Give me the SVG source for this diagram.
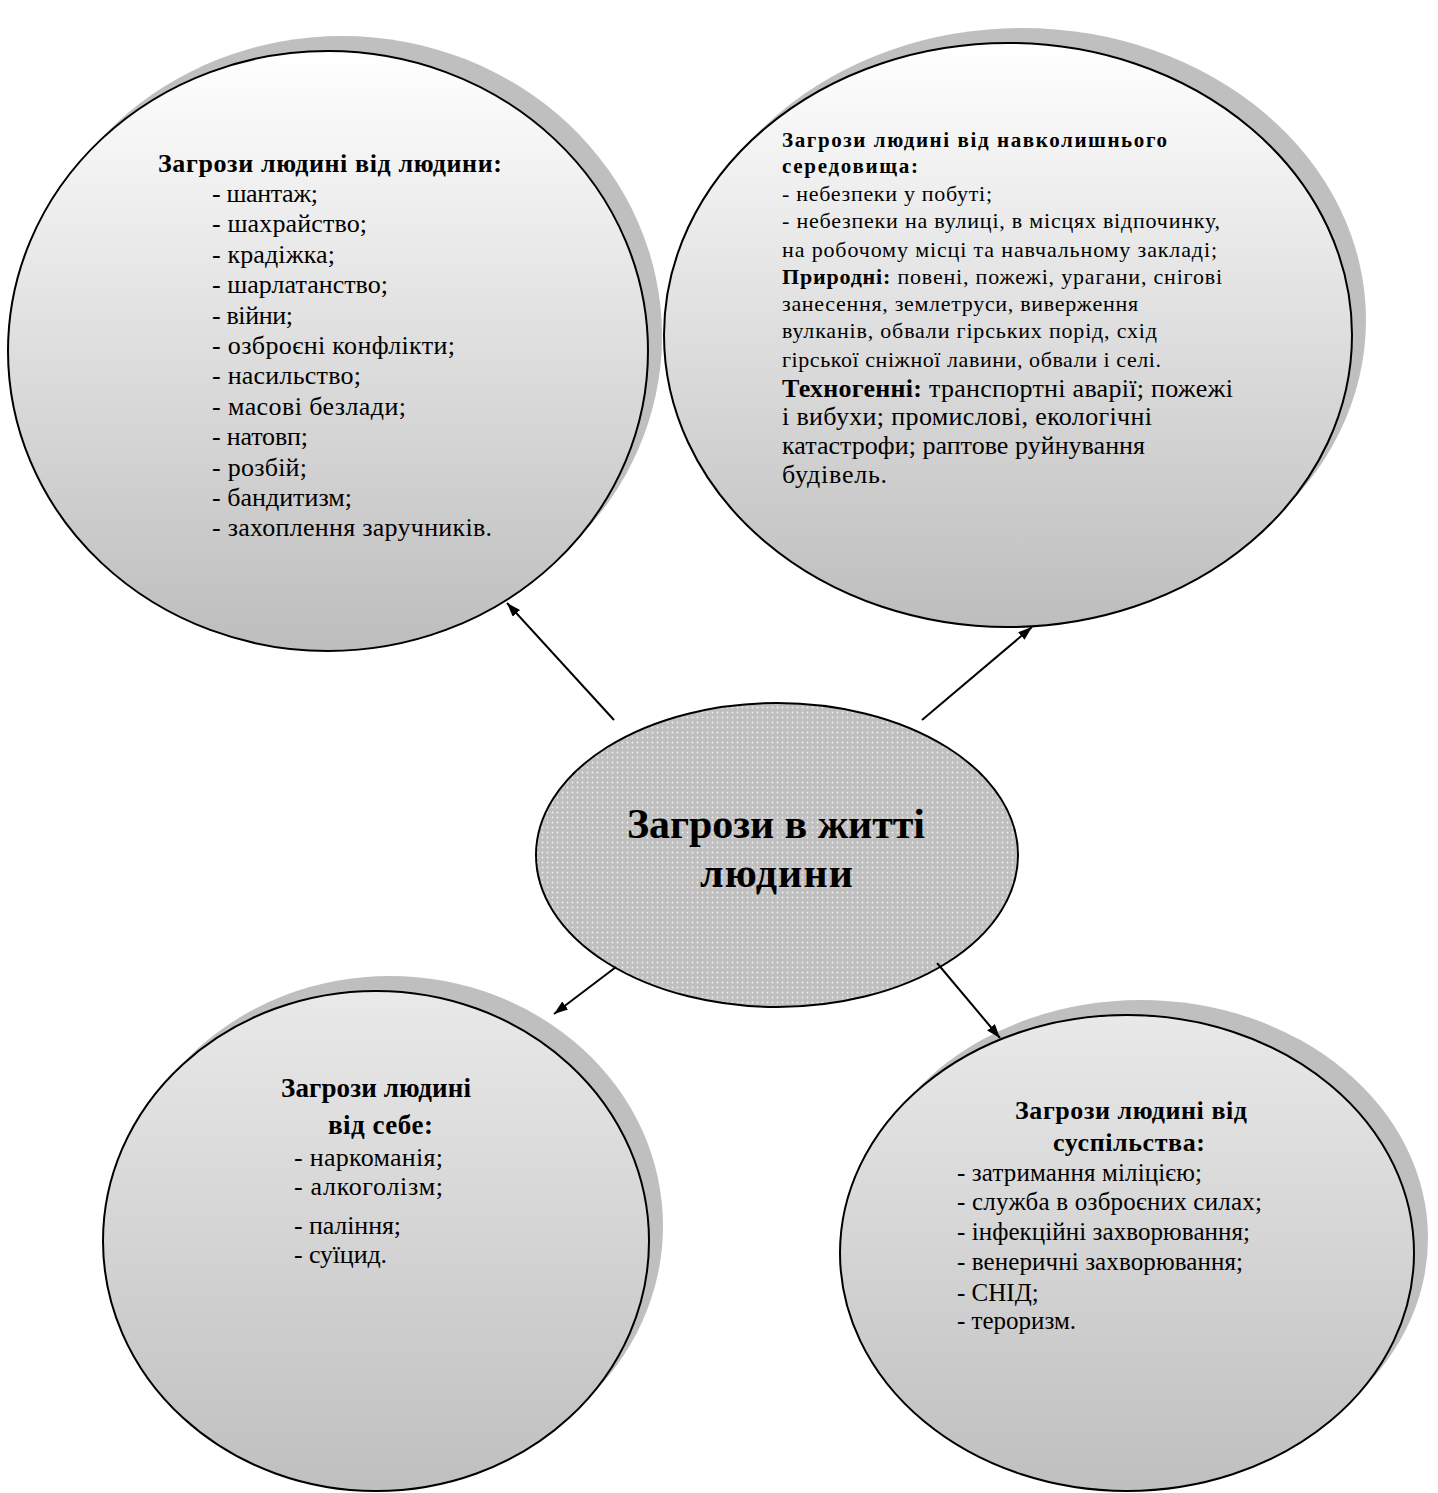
<svg xmlns="http://www.w3.org/2000/svg" width="1438" height="1493" viewBox="0 0 1438 1493">
<defs>
<linearGradient id="gTop" x1="0" y1="0" x2="0" y2="1"><stop offset="0" stop-color="#ffffff"/><stop offset="1" stop-color="#bdbdbd"/></linearGradient>
<linearGradient id="gBot" x1="0" y1="0" x2="0" y2="1"><stop offset="0" stop-color="#e9e9e9"/><stop offset="1" stop-color="#bfbfbf"/></linearGradient>
<pattern id="dots" width="5" height="5" patternUnits="userSpaceOnUse"><rect width="5" height="5" fill="#bfbfbf"/><circle cx="2.5" cy="2.5" r="0.9" fill="#f0f0f0"/></pattern>
<marker id="ah" markerUnits="userSpaceOnUse" markerWidth="14" markerHeight="10" refX="14" refY="5" orient="auto"><path d="M0,0 L14,5 L0,10 z" fill="#000"/></marker>
</defs>
<style>
.sh{fill:#bfbfbf}
.el{stroke:#000;stroke-width:2}
text{font-family:"Liberation Serif","Times New Roman",serif;fill:#000}
.b{font-weight:bold}
.conn line{stroke:#000;stroke-width:2;marker-end:url(#ah)}
</style>
<rect width="1438" height="1493" fill="#fff"/>

<g id="node-people">
<ellipse class="sh" cx="342" cy="336" rx="320" ry="300"/>
<ellipse class="el" cx="328" cy="351" rx="320" ry="300" fill="url(#gTop)"/>
<text class="b" x="158" y="172" font-size="26" textLength="344" lengthAdjust="spacing">Загрози людині від людини:</text>
<g font-size="26">
<text x="212" y="202" textLength="106" lengthAdjust="spacing">- шантаж;</text>
<text x="212" y="232.4" textLength="155" lengthAdjust="spacing">- шахрайство;</text>
<text x="212" y="262.8" textLength="123" lengthAdjust="spacing">- крадіжка;</text>
<text x="212" y="293.2" textLength="176" lengthAdjust="spacing">- шарлатанство;</text>
<text x="212" y="323.6" textLength="81" lengthAdjust="spacing">- війни;</text>
<text x="212" y="354" textLength="243" lengthAdjust="spacing">- озброєні конфлікти;</text>
<text x="212" y="384.4" textLength="149" lengthAdjust="spacing">- насильство;</text>
<text x="212" y="414.8" textLength="194" lengthAdjust="spacing">- масові безлади;</text>
<text x="212" y="445.2" textLength="96" lengthAdjust="spacing">- натовп;</text>
<text x="212" y="475.6" textLength="95" lengthAdjust="spacing">- розбій;</text>
<text x="212" y="506" textLength="140" lengthAdjust="spacing">- бандитизм;</text>
<text x="212" y="536.4" textLength="280" lengthAdjust="spacing">- захоплення заручників.</text>
</g>
</g>

<g id="node-environment">
<ellipse class="sh" cx="1022" cy="320" rx="344" ry="292"/>
<ellipse class="el" cx="1008" cy="335" rx="344" ry="292" fill="url(#gTop)"/>
<text class="b" x="782" y="147" font-size="21" textLength="385" lengthAdjust="spacing">Загрози людині від навколишнього</text>
<text class="b" x="782" y="173" font-size="21" textLength="136" lengthAdjust="spacing">середовища:</text>
<g font-size="22">
<text x="782" y="201" textLength="210" lengthAdjust="spacing">- небезпеки у побуті;</text>
<text x="782" y="228" textLength="438" lengthAdjust="spacing">- небезпеки на вулиці, в місцях відпочинку,</text>
<text x="782" y="257" textLength="435" lengthAdjust="spacing">на робочому місці та навчальному закладі;</text>
<text x="782" y="284" textLength="440" lengthAdjust="spacing"><tspan class="b">Природні:</tspan> повені, пожежі, урагани, снігові</text>
<text x="782" y="311" textLength="356" lengthAdjust="spacing">занесення, землетруси, виверження</text>
<text x="782" y="338" textLength="375" lengthAdjust="spacing">вулканів, обвали гірських порід, схід</text>
<text x="782" y="367" textLength="379" lengthAdjust="spacing">гірської сніжної лавини, обвали і селі.</text>
</g>
<g font-size="26">
<text x="782" y="397" textLength="451" lengthAdjust="spacing"><tspan class="b">Техногенні:</tspan> транспортні аварії; пожежі</text>
<text x="782" y="425" textLength="370" lengthAdjust="spacing">і вибухи; промислові, екологічні</text>
<text x="782" y="454" textLength="363" lengthAdjust="spacing">катастрофи; раптове руйнування</text>
<text x="782" y="483" textLength="105" lengthAdjust="spacing">будівель.</text>
</g>
</g>

<g id="node-self">
<ellipse class="sh" cx="390" cy="1226" rx="273" ry="250"/>
<ellipse class="el" cx="376" cy="1241" rx="273" ry="250" fill="url(#gBot)"/>
<text class="b" x="281" y="1097" font-size="27" textLength="190" lengthAdjust="spacing">Загрози людині</text>
<text class="b" x="328" y="1134" font-size="27" textLength="105" lengthAdjust="spacing">від себе:</text>
<g font-size="26">
<text x="294" y="1166" textLength="149" lengthAdjust="spacing">- наркоманія;</text>
<text x="294" y="1195" textLength="149" lengthAdjust="spacing">- алкоголізм;</text>
<text x="294" y="1234" textLength="107" lengthAdjust="spacing">- паління;</text>
<text x="294" y="1263" textLength="93" lengthAdjust="spacing">- суїцид.</text>
</g>
</g>

<g id="node-society">
<ellipse class="sh" cx="1141" cy="1238" rx="287" ry="238"/>
<ellipse class="el" cx="1127" cy="1253" rx="287" ry="238" fill="url(#gBot)"/>
<text class="b" x="1015" y="1119" font-size="26" textLength="232" lengthAdjust="spacing">Загрози людині від</text>
<text class="b" x="1053" y="1151" font-size="26" textLength="152" lengthAdjust="spacing">суспільства:</text>
<g font-size="25">
<text x="957" y="1181" textLength="245" lengthAdjust="spacing">- затримання міліцією;</text>
<text x="957" y="1210" textLength="305" lengthAdjust="spacing">- служба в озброєних силах;</text>
<text x="957" y="1240" textLength="293" lengthAdjust="spacing">- інфекційні захворювання;</text>
<text x="957" y="1270" textLength="286" lengthAdjust="spacing">- венеричні захворювання;</text>
<text x="957" y="1301">- СНІД;</text>
<text x="957" y="1329">- тероризм.</text>
</g>
</g>

<g id="node-center">
<ellipse class="el" cx="777" cy="855" rx="241" ry="152" fill="url(#dots)"/>
<text class="b" x="627" y="838" font-size="42" textLength="298" lengthAdjust="spacing">Загрози в житті</text>
<text class="b" x="700" y="887" font-size="42" textLength="153" lengthAdjust="spacing">людини</text>
</g>

<g id="connectors" class="conn">
<line x1="614" y1="720" x2="507" y2="603"/>
<line x1="922" y1="720" x2="1032" y2="627"/>
<line x1="616" y1="967" x2="554" y2="1014"/>
<line x1="937" y1="963" x2="1000" y2="1038"/>
</g>
</svg>
